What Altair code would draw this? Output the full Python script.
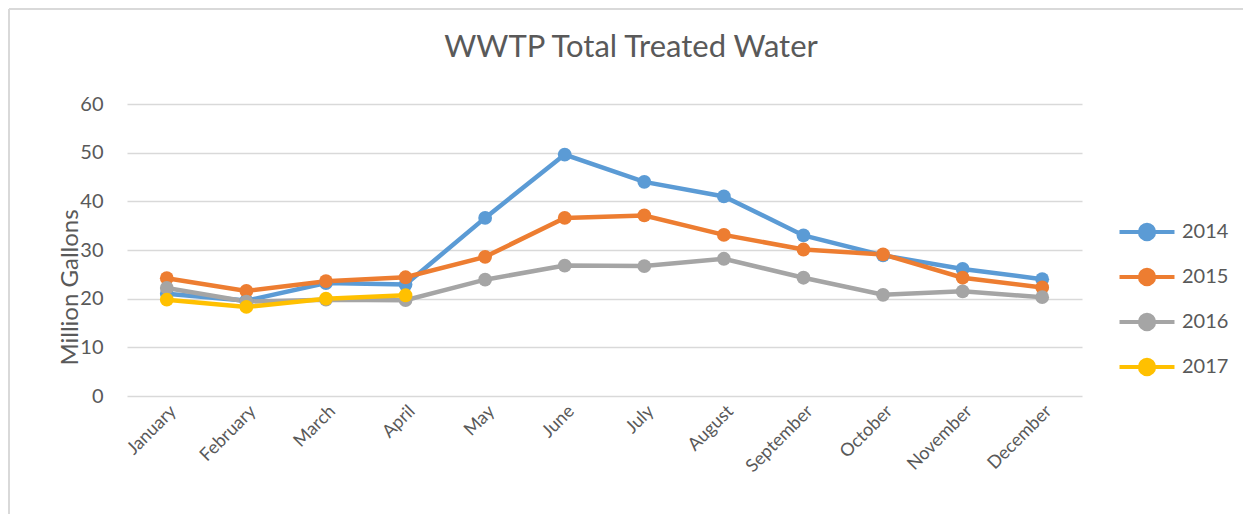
import altair as alt
import pandas as pd

months = ["January", "February", "March", "April", "May", "June", "July",
          "August", "September", "October", "November", "December"]
years = ["2014", "2015", "2016", "2017"]
colors = ["#5B9BD5", "#ED7D31", "#A5A5A5", "#FFC000"]

v2014 = [21.0, 19.6, 23.2, 22.9, 36.6, 49.6, 44.0, 41.0, 33.0, 28.9, 26.1, 24.0]
v2015 = [24.2, 21.6, 23.6, 24.4, 28.6, 36.6, 37.1, 33.1, 30.1, 29.1, 24.3, 22.3]
v2016 = [22.2, 19.4, 19.8, 19.7, 23.9, 26.8, 26.7, 28.2, 24.3, 20.8, 21.5, 20.3]
v2017 = [19.8, 18.3, 20.0, 20.7]

y_ticks = [0, 10, 20, 30, 40, 50, 60]
chart_title = "WWTP Total Treated Water"

rows = []
for yr, vals in zip(years, [v2014, v2015, v2016, v2017]):
    for i, v in enumerate(vals):
        rows.append({"Month": months[i], "Year": yr, "Value": v, "order": i})
df = pd.DataFrame(rows)

FONT = "Lato"
GREY = "#595959"

# legend symbol: a line with a (filled-looking) marker
sym = ("M-2,0H2"
       "M-0.52,0a0.52,0.52 0 1,0 1.04,0a0.52,0.52 0 1,0 -1.04,0"
       "M-0.34,0a0.34,0.34 0 1,0 0.68,0a0.34,0.34 0 1,0 -0.68,0"
       "M-0.16,0a0.16,0.16 0 1,0 0.32,0a0.16,0.16 0 1,0 -0.32,0")

color = alt.Color(
    "Year:N",
    scale=alt.Scale(domain=years, range=colors),
    legend=alt.Legend(
        title=None, orient="none", legendX=1004, legendY=112,
        symbolType=sym, symbolSize=756, symbolStrokeWidth=4,
        labelFontSize=20, labelFont=FONT, labelColor=GREY,
        rowPadding=13, labelOffset=19,
    ),
)

x = alt.X(
    "Month:N", sort=months, title=None,
    scale=alt.Scale(domain=months),
    axis=alt.Axis(labelAngle=-45, labelFontSize=18, labelFont=FONT,
                  labelColor=GREY, ticks=False, domain=False,
                  labelPadding=6, grid=False),
)
y = alt.Y(
    "Value:Q", title="Million Gallons",
    scale=alt.Scale(domain=[0, 60], nice=False),
    axis=alt.Axis(values=y_ticks, labelFontSize=20, labelFont=FONT,
                  labelColor=GREY, ticks=False, domain=False,
                  labelPadding=24, gridColor="#D9D9D9", gridWidth=1.5,
                  titleFontSize=24, titleFont=FONT, titleColor=GREY,
                  titleFontWeight="normal", titleAngle=-90,
                  titleX=-45, titleY=183, titleAlign="center",
                  titleBaseline="bottom"),
)

lines = alt.Chart(df).mark_line(strokeWidth=4.5).encode(
    x=x, y=y, color=color, order="order:Q"
)
points = alt.Chart(df).mark_circle(size=190, opacity=1).encode(
    x=x, y=y, color=alt.Color("Year:N", scale=alt.Scale(domain=years, range=colors), legend=None)
)

frame = alt.Data(values=[{}])
left_border = alt.Chart(frame).mark_rule(color="#D9D9D9", strokeWidth=2).encode(
    x=alt.value(-118), y=alt.value(-95), y2=alt.value(410)
)
top_border = alt.Chart(frame).mark_rule(color="#D9D9D9", strokeWidth=2).encode(
    x=alt.value(-118), x2=alt.value(1120), y=alt.value(-95)
)
title_text = alt.Chart(frame).mark_text(
    font=FONT, fontSize=31, color=GREY, align="center", baseline="alphabetic"
).encode(x=alt.value(504), y=alt.value(-47), text=alt.value(chart_title))

chart = alt.layer(left_border, top_border, title_text, lines, points).properties(
    width=955, height=292,
    padding={"left": 119, "top": 96, "right": 161, "bottom": 119},
    autosize=alt.AutoSizeParams(type="none"),
).configure(background="white", view=alt.ViewConfig(stroke=None))

chart.save("out.html", embed_options={"renderer": "svg", "actions": False})
